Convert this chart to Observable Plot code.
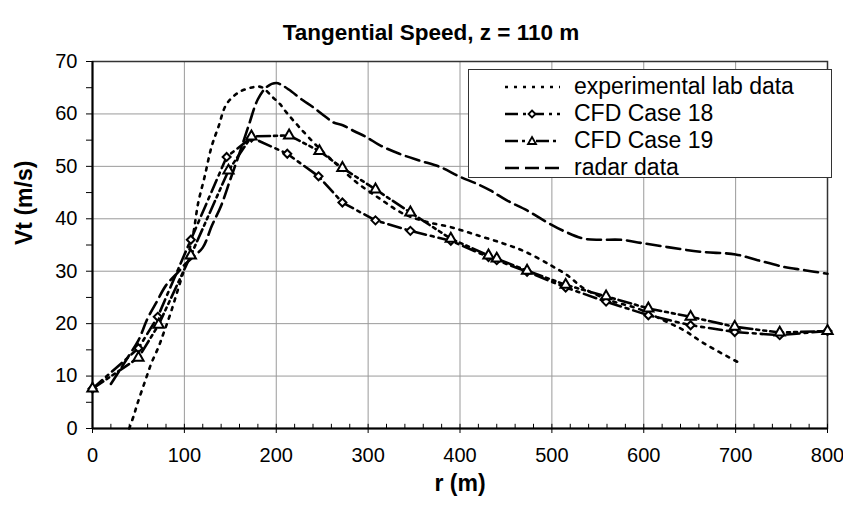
<!DOCTYPE html>
<html>
<head>
<meta charset="utf-8">
<script src="https://cdn.jsdelivr.net/npm/d3@7"></script>
<script src="https://cdn.jsdelivr.net/npm/@observablehq/plot@0.6"></script>
<style>
  body { margin: 0; background: #fff; }
  #wrap { position: relative; width: 843px; height: 505px; background: #fff; font-family: "Liberation Sans", Arial, sans-serif; color: #000; }
  #legend { position: absolute; left: 468px; top: 69px; width: 364px; height: 109px; border: 1.5px solid #333; background: #fff; box-sizing: border-box; padding-top: 3px; }
  .row { display: flex; align-items: center; height: 27px; font-size: 23px; line-height: 27px; }
  .row svg { margin-left: 36px; margin-right: 14px; }
</style>
</head>
<body>
<div id="wrap">
  <div id="chart"></div>
  <div id="legend"></div>
</div>
<script>
// ---- data ----
const expR = [40,45,49,57,64,72,78,85,93,100,106,110,115,122,129.5,137,146,160,175,184,196,204,211,225,247,265,287,313,338,364,390,418,447,470,499,517,535,564,593,622,644,666,702];
const expV = [0,2.5,4.8,8.9,12.4,15.6,18.5,22,26.5,30.5,34.5,37.5,43,48,53.7,57.5,61.9,64.2,65.1,65.1,63.2,61.9,60.3,57.5,53.4,50.5,47,43.8,41,39.4,38.4,36.9,35.3,33.8,31.1,29.2,26.7,24.4,22.9,20.6,18.7,16.2,12.7];

const cfd18R = [0,50,71,107,146,173,212,246,272,308,346,390,431,440,473,515,559,605,651,699,748,800];
const cfd18V = [7.6,15.3,21.3,36,51.8,55.5,52.4,48.1,43.1,39.7,37.7,35.8,32.7,32.1,29.9,26.9,24.2,21.6,19.7,18.4,17.8,18.6];

const cfd19R = [0,50,72,107,148,173,214,247,272,308,346,390,431,440,473,515,559,605,651,699,748,800];
const cfd19V = [7.6,13.5,19.8,33,49.2,55.7,55.9,52.9,49.7,45.6,41.2,36.2,33,32.4,30.1,27.4,25.2,22.9,21.3,19.4,18.3,18.6];

const radarR = [20,30,40,50,60,70,80,92,100,110,120,130,140,150,160,170,180,190,200,207,214,229,240,254,262,273,285,298,313,334,356,378,400,418,433,451,473,494,515,535,553,575,597,626,662,700,724,753,775,800];
const radarV = [8.5,11.2,14,16.8,21,24.2,27.3,29.6,31.2,32.8,34.5,38.7,42.5,47.5,52.5,57.8,62.8,65.2,65.9,65.4,64.6,62.6,61.3,59.4,58.4,57.8,56.7,55.6,54,52.4,51.1,49.9,48,46.7,45.4,43.5,41.6,39.4,37.5,36.2,36,36,35.4,34.6,33.7,33.2,32.1,30.8,30.2,29.5];

const xTicks = [0,100,200,300,400,500,600,700,800];
const xMinor = d3.range(0, 801, 20);
const yTicks = d3.range(0, 71, 5);
const yGrid = [0,10,20,30,40,50,60,70];

const seriesNames = ["experimental lab data", "CFD Case 18", "CFD Case 19", "radar data"];
const titleText = "Tangential Speed, z = 110 m";
const xLabel = "r (m)";
const yLabel = "Vt (m/s)";

const zipRows = (R, V) => R.map((r, i) => ({r, v: V[i]}));
const exp = zipRows(expR, expV);
const c18 = zipRows(cfd18R, cfd18V);
const c19 = zipRows(cfd19R, cfd19V);
const radar = zipRows(radarR, radarV);

// ---- styles ----
const DOT = "3,6", DASH = "14,6", DASHDOT = "13,5,3,5", DASHDOTDOT = "13,4,3,4,3,4";
const LW = 2.6;

const chart = Plot.plot({
  width: 843,
  height: 505,
  marginLeft: 92,
  marginRight: 16,
  marginTop: 61,
  marginBottom: 77,
  style: {fontFamily: '"Liberation Sans", Arial, sans-serif', color: "#000", background: "#fff"},
  x: {domain: [0, 800]},
  y: {domain: [0, 70]},
  marks: [
    Plot.gridX(xTicks, {stroke: "#9a9a9a", strokeOpacity: 1, strokeWidth: 1}),
    Plot.gridY(yGrid, {stroke: "#9a9a9a", strokeOpacity: 1, strokeWidth: 1}),
    Plot.frame({stroke: "#333", strokeWidth: 1.5}),
    Plot.ruleX([0], {stroke: "#000", strokeWidth: 2}),
    Plot.ruleY([0], {stroke: "#000", strokeWidth: 2}),
    Plot.ruleX(xMinor, {x: d => d, y1: 0, y2: 0.8, stroke: "#000", strokeWidth: 1}),
    Plot.axisX({ticks: xTicks, tickSize: 5, tickPadding: 14, fontSize: 20, label: null, tickFormat: d => String(d)}),
    Plot.axisY({ticks: yTicks, tickSize: 6, tickPadding: 9, fontSize: 20, label: null,
      tickFormat: d => (d % 10 === 0 ? String(d) : "")}),
    // series
    Plot.line(exp, {x: "r", y: "v", stroke: "#000", strokeWidth: LW, strokeDasharray: DOT, curve: "catmull-rom"}),
    Plot.line(radar, {x: "r", y: "v", stroke: "#000", strokeWidth: LW, strokeDasharray: DASH, curve: "catmull-rom"}),
    Plot.line(c18, {x: "r", y: "v", stroke: "#000", strokeWidth: LW, strokeDasharray: DASHDOT}),
    Plot.line(c19, {x: "r", y: "v", stroke: "#000", strokeWidth: LW, strokeDasharray: DASHDOTDOT}),
    Plot.dot(c18, {x: "r", y: "v", symbol: "diamond2", r: 3.6, fill: "#fff", stroke: "#000", strokeWidth: 2}),
    Plot.dot(c19, {x: "r", y: "v", symbol: "triangle", r: 3.8, fill: "#fff", stroke: "#000", strokeWidth: 2}),
    // titles
    Plot.text([titleText], {text: d => d, frameAnchor: "top", dx: -29, dy: -37, fontSize: 22.5, fontWeight: "bold", fill: "#000"}),
    Plot.text([xLabel], {text: d => d, frameAnchor: "bottom", dy: 62, fontSize: 23, fontWeight: "bold", fill: "#000"}),
    Plot.text([yLabel], {text: d => d, frameAnchor: "left", dx: -68, rotate: -90, fontSize: 23, fontWeight: "bold", fill: "#000"})
  ]
});
document.getElementById("chart").appendChild(chart);

// ---- legend ----
const legendStyles = [
  {dash: DOT, sym: null},
  {dash: DASHDOT, sym: "diamond"},
  {dash: DASHDOTDOT, sym: "triangle"},
  {dash: DASH, sym: null}
];
const legend = document.getElementById("legend");
seriesNames.forEach((name, i) => {
  const st = legendStyles[i];
  const row = document.createElement("div");
  row.className = "row";
  let sym = "";
  if (st.sym === "diamond") sym = '<path d="M27,10.5 L30.5,14 L27,17.5 L23.5,14 Z" fill="#fff" stroke="#000" stroke-width="1.8"/>';
  if (st.sym === "triangle") sym = '<path d="M27,10 L31,17 L23,17 Z" fill="#fff" stroke="#000" stroke-width="1.8"/>';
  row.innerHTML = '<svg width="55" height="27" viewBox="0 0 55 27"><line x1="0" y1="14" x2="55" y2="14" stroke="#000" stroke-width="' + LW + '" stroke-dasharray="' + st.dash + '"/>' + sym + '</svg><span>' + name + '</span>';
  legend.appendChild(row);
});
</script>
</body>
</html>
